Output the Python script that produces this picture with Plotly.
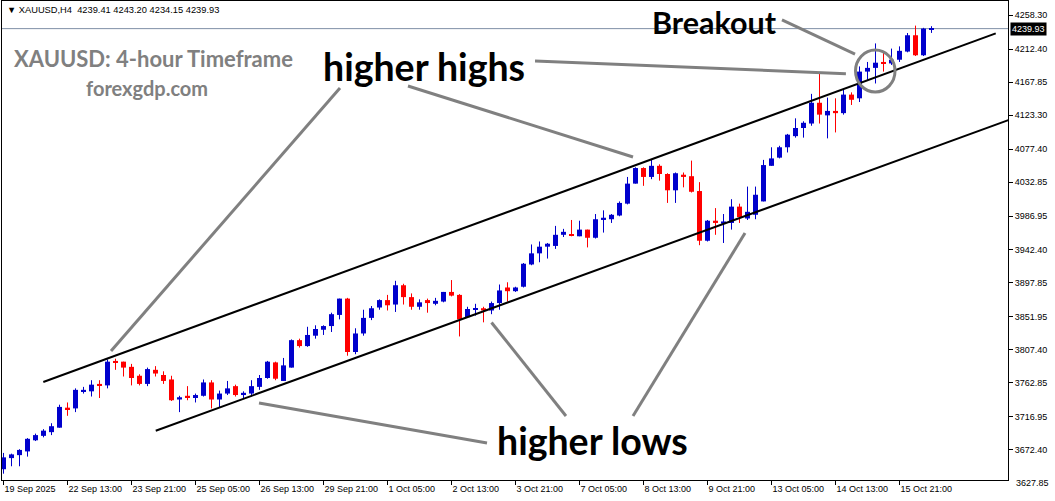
import plotly.graph_objects as go

# ---------------- data (XAUUSD H4) ----------------
opens = [3646, 3661, 3665, 3670, 3685, 3691, 3696, 3702, 3729, 3728,
         3751, 3751, 3761, 3759, 3792, 3791, 3784, 3772, 3761, 3780,
         3773, 3767, 3740, 3745, 3742, 3745, 3763, 3740, 3748, 3758,
         3746, 3748, 3757, 3769, 3790, 3765, 3783, 3820, 3812, 3826,
         3834, 3839, 3854, 3876, 3804, 3829, 3850, 3864, 3874, 3868,
         3894, 3878, 3865, 3874, 3869, 3872, 3885, 3881, 3851, 3861,
         3863, 3860, 3870, 3891, 3886, 3892, 3922, 3937, 3946, 3947,
         3962, 3963, 3960, 3969, 3958, 3982, 3983, 3988, 4004, 4031,
         4052, 4040, 4055, 4044, 4022, 4043, 4041, 4021, 3954, 3981,
         3977, 3978, 4000, 3984, 3989, 4007, 4055, 4066, 4080, 4095,
         4106, 4112, 4140, 4123, 4129, 4126, 4151, 4146, 4182, 4187,
         4195, 4193, 4198, 4209, 4231, 4204, 4239.41]
highs = [3668, 3667, 3673, 3688, 3694, 3700, 3708, 3733, 3736, 3755,
         3757, 3766, 3766, 3794, 3795, 3791, 3788, 3774, 3783, 3785,
         3778, 3772, 3745, 3758, 3748, 3767, 3766, 3752, 3765, 3760,
         3751, 3766, 3773, 3792, 3791, 3796, 3821, 3822, 3838, 3840,
         3840, 3857, 3876, 3877, 3836, 3861, 3866, 3875, 3881, 3900,
         3896, 3883, 3875, 3876, 3877, 3885, 3901, 3882, 3865, 3869,
         3865, 3872, 3895, 3898, 3892, 3924, 3949, 3953, 3951, 3974,
         3970, 3982, 3981, 3969, 3990, 3995, 3990, 4007, 4040, 4053,
         4053, 4064, 4057, 4045, 4046, 4046, 4062, 4033, 3982, 3998,
         3990, 4010, 4004, 4027, 4027, 4063, 4080, 4082, 4098, 4119,
         4115, 4152, 4181, 4147, 4146, 4158, 4154, 4189, 4195, 4220,
         4209, 4213, 4216, 4234, 4244, 4241, 4243.20]
lows = [3640, 3650, 3650, 3663, 3684, 3689, 3692, 3702, 3718, 3723,
        3748, 3744, 3742, 3755, 3780, 3771, 3759, 3759, 3758, 3771,
        3761, 3738, 3723, 3739, 3736, 3744, 3728, 3729, 3746, 3744,
        3741, 3744, 3753, 3768, 3766, 3765, 3783, 3810, 3811, 3822,
        3827, 3831, 3848, 3799, 3801, 3826, 3847, 3861, 3860, 3858,
        3868, 3861, 3861, 3857, 3867, 3871, 3879, 3825, 3850, 3853,
        3844, 3855, 3861, 3872, 3885, 3891, 3921, 3925, 3930, 3943,
        3959, 3960, 3960, 3945, 3957, 3965, 3978, 3987, 4003, 4031,
        4028, 4037, 4035, 4005, 4005, 4026, 4019, 3948, 3953, 3962,
        3951, 3969, 3978, 3982, 3983, 4007, 4055, 4065, 4073, 4093,
        4093, 4109, 4112, 4092, 4100, 4124, 4137, 4141, 4171, 4166,
        4182, 4191, 4195, 4208, 4203, 4203, 4234.15]
closes = [3662, 3666, 3672, 3687, 3692, 3698, 3704, 3730, 3727, 3753,
          3753, 3760, 3759, 3791, 3790, 3783, 3769, 3761, 3781, 3775,
          3765, 3739, 3743, 3743, 3746, 3763, 3740, 3748, 3755, 3746,
          3749, 3758, 3769, 3791, 3768, 3786, 3820, 3812, 3827, 3835,
          3839, 3855, 3876, 3804, 3829, 3850, 3863, 3874, 3867, 3894,
          3878, 3865, 3871, 3870, 3873, 3885, 3880, 3848, 3862, 3863,
          3860, 3870, 3887, 3886, 3891, 3923, 3937, 3946, 3950, 3962,
          3966, 3961, 3969, 3958, 3983, 3985, 3989, 4005, 4031, 4052,
          4040, 4055, 4044, 4022, 4045, 4040, 4020, 3954, 3981, 3978,
          3980, 4000, 3986, 3993, 4016, 4056, 4065, 4080, 4097, 4106,
          4113, 4140, 4124, 4129, 4126, 4151, 4144, 4182, 4187, 4194,
          4193, 4198, 4210, 4231, 4204, 4240, 4239.93]

time_labels = ["19 Sep 2025", "22 Sep 13:00", "23 Sep 21:00", "25 Sep 05:00",
               "26 Sep 13:00", "29 Sep 21:00", "1 Oct 05:00", "2 Oct 13:00",
               "3 Oct 21:00", "7 Oct 05:00", "8 Oct 13:00", "9 Oct 21:00",
               "13 Oct 05:00", "14 Oct 13:00", "15 Oct 21:00"]
time_label_bars = [0, 8, 16, 24, 32, 40, 48, 56, 64, 72, 80, 88, 96, 104, 112]

price_ticks = [4258.30, 4212.40, 4167.85, 4123.30, 4077.40, 4032.85, 3986.95,
               3942.40, 3897.85, 3851.95, 3807.40, 3762.85, 3716.95, 3672.40,
               3627.85]

# channel lines: (bar index, price) end points
upper_channel_bars = [4.975, 124.03]
upper_channel_prices = [3763.6, 4233.6]
lower_channel_bars = [19.03, 126.0]
lower_channel_prices = [3697.9, 4118.2]

# grey pointer lines: (bar0, price0, bar1, price1)
pointer_lines = [
    (42.06, 4159.9, 13.44, 3805.4),
    (50.56, 4162.6, 78.69, 4066.9),
    (66.44, 4196.3, 105.30, 4179.2),
    (97.31, 4251.6, 106.44, 4205.7),
    (60.44, 3681.4, 31.94, 3735.3),
    (70.31, 3717.8, 61.00, 3843.8),
    (78.69, 3717.8, 92.69, 3964.4),
]
breakout_circle = (106.5, 4154.5, 111.44, 4211.1)

# ---------------- layout geometry ----------------
W, H = 1055, 501
LM, RM, TM, BM = 2, 47, 1, 21
PW, PH = W - LM - RM, H - TM - BM
BAR_PX = 8
x_range = [-1.5 / BAR_PX, -1.5 / BAR_PX + PW / BAR_PX]
y_range = [3631.48, 4277.17]


def paper(px, py):
    return (px - LM) / PW, 1 - (py - TM) / PH


BLUE = "#0000CC"
RED = "#FF0000"
GREY = "#808080"

idx = list(range(len(opens)))
up = [c >= o for o, c in zip(opens, closes)]
colors = [BLUE if u else RED for u in up]
MIN_BODY = 1.4
bases, heights = [], []
for o, c in zip(opens, closes):
    h = abs(c - o)
    if h < MIN_BODY:
        bases.append((o + c) / 2 - MIN_BODY / 2)
        heights.append(MIN_BODY)
    else:
        bases.append(min(o, c))
        heights.append(h)

fig = go.Figure()

# wicks
for is_up, col in ((True, BLUE), (False, RED)):
    xs, ys = [], []
    for i in idx:
        if up[i] == is_up:
            xs += [i, i, None]
            ys += [lows[i], highs[i], None]
    fig.add_trace(go.Scatter(x=xs, y=ys, mode="lines",
                             line=dict(color=col, width=1),
                             hoverinfo="skip", showlegend=False))

# bodies
fig.add_trace(go.Bar(x=idx, y=heights, base=bases, width=0.625,
                     marker=dict(color=colors, line=dict(width=0)),
                     showlegend=False, hoverinfo="skip"))

# channel lines
fig.add_trace(go.Scatter(x=upper_channel_bars, y=upper_channel_prices,
                         mode="lines", line=dict(color="black", width=2),
                         showlegend=False, hoverinfo="skip"))
fig.add_trace(go.Scatter(x=lower_channel_bars, y=lower_channel_prices,
                         mode="lines", line=dict(color="black", width=2),
                         showlegend=False, hoverinfo="skip"))

shapes = []
# current price line
shapes.append(dict(type="line", xref="paper", yref="y", x0=0, x1=1,
                   y0=closes[-1], y1=closes[-1],
                   line=dict(color="#7F8FA6", width=1), layer="below"))
for x0, y0, x1, y1 in pointer_lines:
    shapes.append(dict(type="line", xref="x", yref="y", x0=x0, y0=y0,
                       x1=x1, y1=y1, line=dict(color=GREY, width=3)))
cx0, cy0, cx1, cy1 = breakout_circle
shapes.append(dict(type="circle", xref="x", yref="y", x0=cx0, y0=cy0,
                   x1=cx1, y1=cy1, line=dict(color=GREY, width=3)))

annotations = []


def text(s, px, py, size, color="black", bold=True, family="Lato",
         xanchor="center"):
    x, y = paper(px, py)
    annotations.append(dict(
        text=f"<b>{s}</b>" if bold else s, x=x, y=y, xref="paper",
        yref="paper", xanchor=xanchor, yanchor="middle", showarrow=False,
        font=dict(family=family, size=size, color=color)))


text("Breakout", 714.5, 22, 30.5)
text("higher highs", 423.5, 66, 37.5)
text("higher lows", 592.5, 440, 37.5)
text("XAUUSD: 4-hour Timeframe", 153, 58, 22, color=GREY)
text("forexgdp.com", 147, 88.5, 20, color=GREY)
header = ("\u25BC\u00a0XAUUSD,H4\u00a0\u00a0"
          f"{opens[-1]:.2f} {highs[-1]:.2f} {lows[-1]:.2f} {closes[-1]:.2f}")
text(header, 5, 10.5, 9.3, bold=False, family="Liberation Sans",
     xanchor="left")

# current price tag on the price scale
annotations.append(dict(
    text=f"{closes[-1]:.2f}", x=1, y=closes[-1], xref="paper", yref="y",
    xanchor="left", yanchor="middle", xshift=2, showarrow=False,
    bgcolor="black", borderpad=1,
    font=dict(family="Liberation Sans", size=9, color="white")))

# lowest price label sits just below the frame
low_tick = price_ticks[-1]
annotations.append(dict(
    text=f"{low_tick:.2f}", x=1, xref="paper", yref="paper",
    y=(low_tick - y_range[0]) / (y_range[1] - y_range[0]),
    xanchor="left", yanchor="middle", xshift=6, showarrow=False,
    font=dict(family="Liberation Sans", size=9, color="black")))

fig.update_layout(
    width=W, height=H, autosize=False,
    margin=dict(l=LM, r=RM, t=TM, b=BM, pad=0),
    paper_bgcolor="white", plot_bgcolor="white",
    barmode="overlay", showlegend=False,
    shapes=shapes, annotations=annotations,
    xaxis=dict(range=x_range, showgrid=False, zeroline=False,
               showline=True, mirror=True, linecolor="black", linewidth=1,
               ticks="outside", ticklen=4, tickcolor="black",
               tickvals=time_label_bars, ticktext=time_labels,
               ticklabelposition="outside right",
               tickfont=dict(family="Liberation Sans", size=9, color="black"),
               automargin=False, fixedrange=True),
    yaxis=dict(range=y_range, side="right", showgrid=False, zeroline=False,
               showline=True, mirror=True, linecolor="black", linewidth=1,
               ticks="outside", ticklen=4, tickcolor="black",
               tickvals=price_ticks,
               ticktext=[f"{p:.2f}" for p in price_ticks],
               tickfont=dict(family="Liberation Sans", size=9, color="black"),
               automargin=False, fixedrange=True),
)

fig.write_html(
    "out.html",
    config={"displayModeBar": False},
    post_script="document.body.style.margin='0';"
                "document.body.style.overflow='hidden';",
)
